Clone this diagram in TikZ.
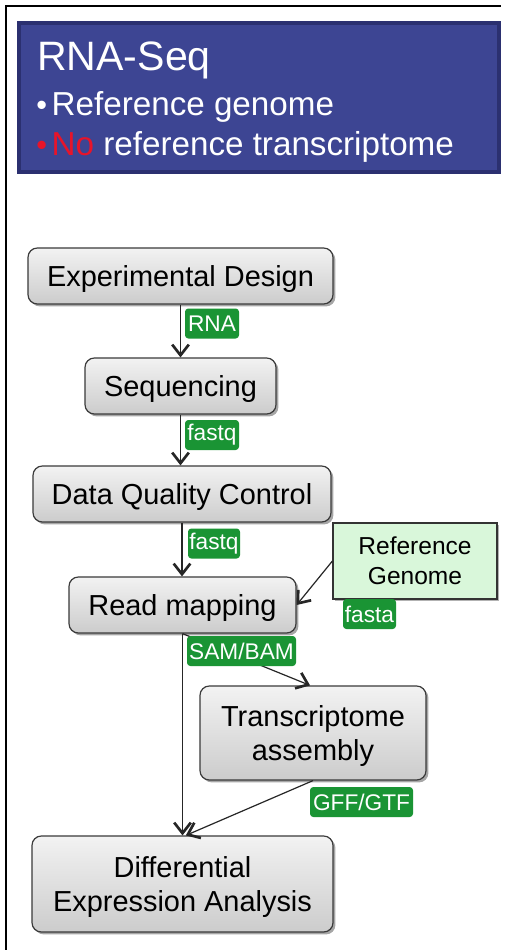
\documentclass[tikz,border=0pt]{standalone}
\usepackage{fontspec}
\setmainfont{Liberation Sans}
\usetikzlibrary{arrows.meta,shadows}
\definecolor{titlebg}{HTML}{3D4593}
\definecolor{titlebd}{HTML}{2B3070}
\definecolor{lblgreen}{HTML}{1A9434}
\definecolor{refgreen}{HTML}{D9F7DA}
\definecolor{nodebd}{HTML}{3A3A3A}
\definecolor{noderd}{HTML}{E8142A}
\tikzset{
  stepbox/.style={draw=nodebd, line width=0.9pt, rounded corners=7pt,
    top color=white!95!black, bottom color=white!80!black,
    drop shadow={shadow xshift=1.8pt, shadow yshift=-1.8pt, opacity=0.35, fill=black},
    font=\fontsize{21.7pt}{25pt}\selectfont, align=center, inner sep=0pt,
    text depth=0pt, minimum height=42pt},
  refbox/.style={draw=black!80, line width=0.9pt, fill=refgreen,
    drop shadow={shadow xshift=1.5pt, shadow yshift=-1.5pt, opacity=0.3, fill=black},
    font=\fontsize{18.4pt}{22.5pt}\selectfont, align=center, inner sep=0pt},
  fmt/.style={fill=lblgreen, text=white, rounded corners=2.5pt,
    font=\fontsize{17pt}{19pt}\selectfont, inner xsep=1pt, inner ysep=0pt,
    minimum height=22.5pt},
  flow/.style={draw=black!85, line width=0.9pt,
    -{Straight Barb[length=8pt, width=12.5pt, line width=2pt]}},
  ttl/.style={text=white, anchor=base west, inner sep=0pt}
}
\begin{document}
\begin{tikzpicture}[x=0.75pt, y=-0.75pt]
\useasboundingbox (0,0) rectangle (506,950);
\fill[white] (0,0) rectangle (506,950);
% frame
\draw[line width=1.6pt, black] (6,950) -- (6,6) -- (501,6);
% title box
\draw[line width=2.4pt, draw=titlebd, fill=titlebg] (19,23) rectangle (499,172);
\node[ttl, font=\fontsize{30.8pt}{34pt}\selectfont] (t1) at (37,70) {RNA-Seq};
\node[ttl, font=\fontsize{24.9pt}{28pt}\selectfont] (t2) at (36,115) {{\fontsize{23pt}{28pt}\selectfont\textbullet}\hspace{3.5pt}Reference genome};
\node[ttl, font=\fontsize{24.9pt}{28pt}\selectfont] (t3) at (36,155) {{\fontsize{23pt}{28pt}\selectfont\textcolor{noderd}{\textbullet}}\hspace{3.5pt}\textcolor{noderd}{No} reference transcriptome};
% nodes
\node[stepbox, minimum width=228.75pt] (ed) at (180.5,276) {Experimental Design};
\node[stepbox, minimum width=143.25pt] (sq) at (180.5,386) {Sequencing};
\node[stepbox, minimum width=223.5pt] (dq) at (182,494) {Data Quality Control};
\node[stepbox, minimum width=170.25pt] (rm) at (182.5,605) {Read mapping};
\node[refbox, minimum width=123pt, minimum height=57pt] (rg) at (415,561) {Reference\\Genome};
\node[stepbox, minimum width=169.5pt, minimum height=70.5pt] (ta) at (313,733) {Transcriptome\\assembly};
\node[stepbox, minimum width=225.75pt, minimum height=72pt, font=\fontsize{21.7pt}{26pt}\selectfont] (de) at (182.5,884) {Differential\\Expression Analysis};
% connectors
\draw[flow] (ed.south) -- (sq.north);
\draw[flow] (sq.south) -- (sq.south |- dq.north);
\draw[flow] (dq.south) -- (dq.south |- rm.north);
\draw[flow] (rg.west) -- (rm.east);
\draw[flow] (rm.south) -- ([xshift=-2.2pt]ta.north);
\draw[flow] (rm.south) -- (rm.south |- de.north);
\draw[flow] (ta.south) -- ([xshift=2.5pt]de.north);
% format labels
\node[fmt, minimum width=40.5pt] (l1) at (212,323.5) {RNA};
\node[fmt, minimum width=40.5pt] (l2) at (212,435) {fastq};
\node[fmt, minimum width=39pt] (l3) at (214,543.5) {fastq};
\node[fmt, minimum width=39.75pt] (l4) at (369.5,614) {fasta};
\node[fmt, minimum width=81.75pt] (l5) at (241.5,651) {SAM/BAM};
\node[fmt, minimum width=77.25pt] (l6) at (361.5,802) {GFF/GTF};
\end{tikzpicture}
\end{document}
